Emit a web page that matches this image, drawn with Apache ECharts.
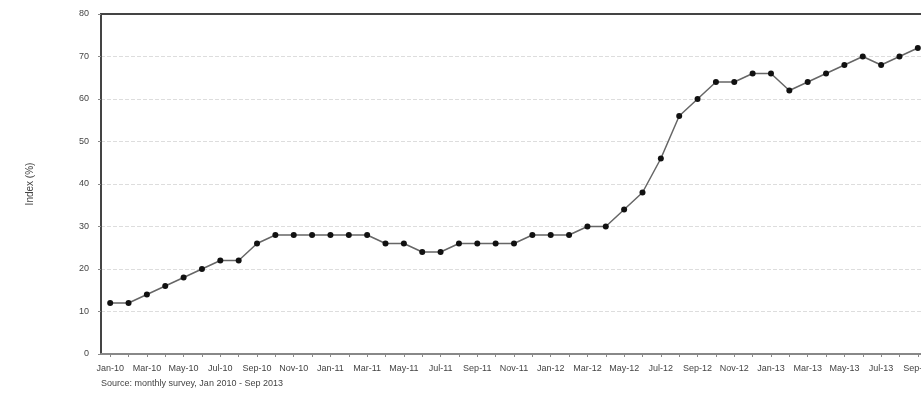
<!DOCTYPE html>
<html>
<head>
<meta charset="utf-8">
<script src="https://cdn.jsdelivr.net/npm/echarts@6/dist/echarts.min.js"></script>
<style>
  html, body { margin: 0; padding: 0; background: #fff; }
  #chart { width: 921px; height: 411px; }
</style>
</head>
<body>
<div id="chart"></div>
<script>
var months = ['Jan-10', 'Feb-10', 'Mar-10', 'Apr-10', 'May-10', 'Jun-10', 'Jul-10', 'Aug-10', 'Sep-10', 'Oct-10', 'Nov-10', 'Dec-10',
  'Jan-11', 'Feb-11', 'Mar-11', 'Apr-11', 'May-11', 'Jun-11', 'Jul-11', 'Aug-11', 'Sep-11', 'Oct-11', 'Nov-11', 'Dec-11',
  'Jan-12', 'Feb-12', 'Mar-12', 'Apr-12', 'May-12', 'Jun-12', 'Jul-12', 'Aug-12', 'Sep-12', 'Oct-12', 'Nov-12', 'Dec-12',
  'Jan-13', 'Feb-13', 'Mar-13', 'Apr-13', 'May-13', 'Jun-13', 'Jul-13', 'Aug-13', 'Sep-13'];

var indexValues = [12, 12, 14, 16, 18, 20, 22, 22, 26, 28, 28, 28, 28, 28, 28,
  26, 26, 24, 24, 26, 26, 26, 26, 28, 28, 28, 30, 30,
  34, 38, 46, 56, 60, 64, 64, 66, 66, 62, 64, 66, 68, 70, 68, 70, 72];

var yTicks = [0, 10, 20, 30, 40, 50, 60, 70, 80];

var yName = 'Index (%)';
var sourceNote = 'Source: monthly survey, Jan 2010 - Sep 2013';

var myChart = echarts.init(document.getElementById('chart'));
var option = {
  animation: false,
  backgroundColor: '#fff',
  textStyle: { fontFamily: 'Liberation Sans, Arial, sans-serif' },
  title: {
    text: sourceNote,
    left: 96,
    top: 374,
    textStyle: { fontSize: 9, fontWeight: 'normal', color: '#444' }
  },
  grid: {
    left: 101,
    top: 14,
    width: 826,
    height: 340,
    outerBoundsMode: 'none',
    containLabel: false,
    show: true,
    borderColor: '#444',
    borderWidth: 2
  },
  xAxis: {
    type: 'category',
    data: months,
    boundaryGap: true,
    axisLine: { lineStyle: { color: '#888', width: 2 } },
    axisTick: { show: true, length: 3, alignWithLabel: true, interval: 0, lineStyle: { color: '#888' } },
    axisLabel: { interval: 1, fontSize: 9, color: '#444', margin: 10 },
    splitLine: { show: false }
  },
  yAxis: {
    type: 'value',
    min: yTicks[0],
    max: yTicks[yTicks.length - 1],
    interval: 10,
    name: yName,
    nameLocation: 'middle',
    nameGap: 66,
    nameTextStyle: { fontSize: 10, color: '#444' },
    axisLine: { show: true, lineStyle: { color: '#444', width: 2 } },
    axisTick: { show: true, length: 3, lineStyle: { color: '#888' } },
    axisLabel: { fontSize: 9, color: '#444', margin: 12 },
    splitLine: { show: true, showMinLine: false, showMaxLine: false, lineStyle: { color: '#ddd', type: 'dashed' } }
  },
  series: [{
    type: 'line',
    data: indexValues,
    symbol: 'circle',
    symbolSize: 6,
    lineStyle: { color: '#666', width: 1.5 },
    itemStyle: { color: '#111' }
  }]
};
myChart.setOption(option, true);
</script>
</body>
</html>
